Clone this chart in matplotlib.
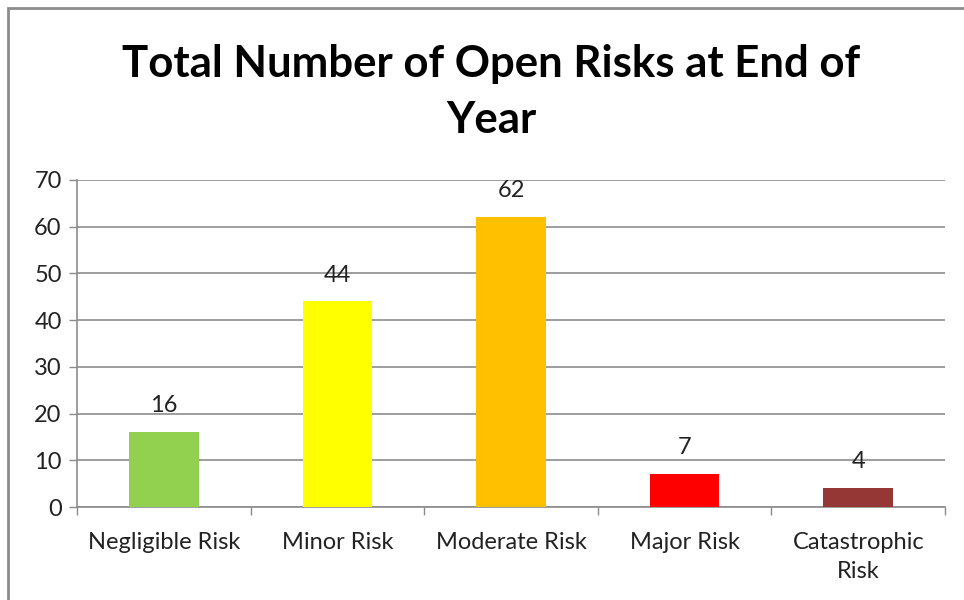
import matplotlib
matplotlib.use("Agg")
import matplotlib.pyplot as plt
import numpy as np
from matplotlib.patches import Rectangle

categories = ["Negligible Risk", "Minor Risk", "Moderate Risk", "Major Risk", "Catastrophic\nRisk"]
values = [16, 44, 62, 7, 4]
colors = ["#92D050", "#FFFF00", "#FFC000", "#FF0000", "#953735"]
yticks = [0, 10, 20, 30, 40, 50, 60, 70]
title = "Total Number of Open Risks at End of\nYear"

plt.rcParams['font.family'] = ['Lato', 'DejaVu Sans']

fig = plt.figure(figsize=(9.64, 6.0), dpi=100)
fig.patches.append(Rectangle((8/964, -0.02), 1.05, 1 - 8/600 + 0.02, transform=fig.transFigure,
                             fill=False, edgecolor="#8c8c8c", linewidth=2))
ax = fig.add_axes([77/964, 93/600, (945-77)/964, (507-180)/600])

x = np.arange(len(categories))
ax.bar(x, values, width=0.4, color=colors, zorder=3)
for xi, v in zip(x, values):
    ax.annotate(str(v), (xi, v), xytext=(0, 19), textcoords="offset points",
                ha="center", va="center", fontsize=17, color="#222222")

ax.set_xlim(-0.5, len(categories) - 0.5)
ax.set_ylim(0, 70)
ax.set_yticks(yticks)
ax.set_yticklabels([str(t) for t in yticks], fontsize=17, color="#222222")
ax.tick_params(axis="y", length=6, color="#8c8c8c", width=1, pad=5)
ax.yaxis.grid(True, color="#8c8c8c", linewidth=1.2, zorder=0)
ax.set_axisbelow(True)

ax.set_xticks(np.arange(-0.5, len(categories)), minor=False)
ax.set_xticklabels([])
ax.tick_params(axis="x", which="major", length=6, color="#8c8c8c", width=1)
ax.set_xticks(x, minor=True)
ax.set_xticklabels(categories, minor=True, fontsize=17, color="#222222", linespacing=1.5)
ax.tick_params(axis="x", which="minor", length=0, pad=18)

for s in ["top", "right"]:
    ax.spines[s].set_visible(False)
for s in ["left", "bottom"]:
    ax.spines[s].set_color("#8c8c8c")
    ax.spines[s].set_linewidth(1.2)

fig.text(491/964, 1 - 92/600, title, ha="center", va="center", fontsize=31.5,
         fontweight="bold", linespacing=1.5)

fig.savefig("out.png", dpi=100)
